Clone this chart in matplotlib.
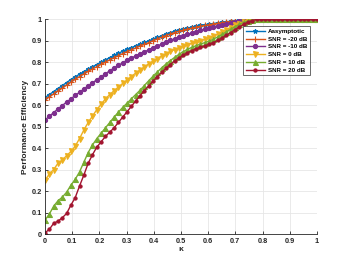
import numpy as np
import matplotlib
matplotlib.use("Agg")
import matplotlib.pyplot as plt

plt.rcParams['font.family'] = ['Liberation Sans', 'DejaVu Sans']

kappa = np.linspace(0, 1, 64)
ones14 = [1.0] * 14

asymptotic = [0.636, 0.650, 0.664, 0.678, 0.692, 0.706, 0.720, 0.733, 0.745, 0.757,
              0.768, 0.780, 0.790, 0.801, 0.812, 0.822, 0.833, 0.842, 0.852, 0.861,
              0.869, 0.877, 0.885, 0.893, 0.900, 0.908, 0.916, 0.924, 0.932, 0.939,
              0.945, 0.950, 0.955, 0.960, 0.964, 0.968, 0.972, 0.975, 0.978, 0.981,
              0.984, 0.987, 0.989, 0.992, 0.994, 0.996, 0.997, 0.999, 1.0, 1.0] + ones14
snr_m20 = [0.625, 0.639, 0.653, 0.667, 0.680, 0.694, 0.708, 0.721, 0.734, 0.746,
           0.758, 0.769, 0.780, 0.791, 0.801, 0.812, 0.822, 0.831, 0.841, 0.850,
           0.858, 0.867, 0.876, 0.884, 0.892, 0.901, 0.909, 0.917, 0.925, 0.932,
           0.939, 0.945, 0.950, 0.955, 0.960, 0.964, 0.968, 0.972, 0.975, 0.979,
           0.982, 0.985, 0.988, 0.991, 0.993, 0.995, 0.997, 0.999, 1.0, 1.0] + ones14
snr_m10 = [0.532, 0.549, 0.566, 0.583, 0.599, 0.615, 0.630, 0.646, 0.661, 0.676,
           0.691, 0.705, 0.719, 0.733, 0.747, 0.761, 0.774, 0.786, 0.798, 0.810,
           0.820, 0.830, 0.840, 0.849, 0.858, 0.867, 0.876, 0.885, 0.893, 0.902,
           0.910, 0.917, 0.924, 0.930, 0.937, 0.943, 0.949, 0.955, 0.960, 0.965,
           0.970, 0.975, 0.979, 0.984, 0.988, 0.992, 0.995, 0.998, 1.0, 1.0] + ones14
snr_0 = [0.250, 0.280, 0.300, 0.330, 0.345, 0.365, 0.385, 0.410, 0.445, 0.485,
         0.520, 0.550, 0.580, 0.605, 0.630, 0.650, 0.668, 0.685, 0.702, 0.718,
         0.734, 0.750, 0.765, 0.779, 0.793, 0.806, 0.818, 0.830, 0.841, 0.851,
         0.860, 0.868, 0.876, 0.883, 0.889, 0.895, 0.901, 0.907, 0.914, 0.922,
         0.932, 0.942, 0.952, 0.962, 0.972, 0.981, 0.988, 0.994, 0.998, 1.0] + ones14
snr_10 = [0.065, 0.093, 0.130, 0.155, 0.172, 0.195, 0.228, 0.255, 0.290, 0.335,
          0.380, 0.415, 0.445, 0.470, 0.495, 0.520, 0.545, 0.568, 0.590, 0.610,
          0.630, 0.650, 0.670, 0.692, 0.714, 0.735, 0.755, 0.774, 0.792, 0.808,
          0.823, 0.837, 0.850, 0.861, 0.870, 0.878, 0.885, 0.892, 0.899, 0.908,
          0.919, 0.930, 0.942, 0.954, 0.966, 0.977, 0.986, 0.993, 0.998, 1.0] + ones14
snr_20 = [0.006, 0.022, 0.050, 0.060, 0.076, 0.096, 0.135, 0.170, 0.224, 0.275,
          0.330, 0.370, 0.405, 0.430, 0.455, 0.475, 0.495, 0.520, 0.545, 0.570,
          0.595, 0.620, 0.645, 0.668, 0.690, 0.712, 0.733, 0.753, 0.772, 0.790,
          0.806, 0.820, 0.833, 0.845, 0.855, 0.863, 0.870, 0.877, 0.884, 0.892,
          0.902, 0.914, 0.926, 0.939, 0.952, 0.965, 0.977, 0.987, 0.995, 1.0] + ones14

labels = ['Aasymptotic', 'SNR = -20 dB', 'SNR = -10 dB', 'SNR = 0 dB', 'SNR = 10 dB', 'SNR = 20 dB']
series = [asymptotic, snr_m20, snr_m10, snr_0, snr_10, snr_20]
colors = ['#0072BD', '#D95319', '#7E2F8E', '#EDB120', '#77AC30', '#A2142F']
markers = ['*', '+', 'o', 'v', '^', 'o']
msizes = [3.3, 3.8, 3.0, 3.6, 3.6, 2.3]

xticks = np.round(np.arange(0, 1.01, 0.1), 1)
yticks = np.round(np.arange(0, 1.01, 0.1), 1)

fig = plt.figure(figsize=(3.5, 2.63), dpi=100)
ax = fig.add_axes([0.1286, 0.110, 0.777, 0.816])

for y, lab, c, m, ms in zip(series, labels, colors, markers, msizes):
    ax.plot(kappa, y, color=c, marker=m, markersize=ms, markerfacecolor=c,
            markeredgecolor=c, markeredgewidth=0.8, linewidth=1.0, label=lab)

ax.set_xlim(0, 1)
ax.set_ylim(0, 1)
ax.set_xticks(xticks)
ax.set_yticks(yticks)
ax.set_xticklabels([('%g' % v) for v in xticks])
ax.set_yticklabels([('%g' % v) for v in yticks])
ax.grid(True, color='#e6e6e6', linewidth=0.6)
ax.set_axisbelow(True)
for s in ['top', 'right']:
    ax.spines[s].set_visible(False)
for s in ['left', 'bottom']:
    ax.spines[s].set_color('#262626')
    ax.spines[s].set_linewidth(0.6)
ax.tick_params(direction='in', length=2.5, width=0.6, labelsize=5.3, colors='#262626', pad=2.5)
for t in ax.get_xticklabels() + ax.get_yticklabels():
    t.set_fontweight('bold')

ax.set_xlabel('κ', fontsize=6, fontweight='bold', labelpad=1, color='#262626')
ax.set_ylabel('Performance Efficiency', fontsize=6, fontweight='bold', labelpad=1.5, color='#262626')

leg = ax.legend(loc='upper right', bbox_to_anchor=(0.978, 0.975),
                prop={'weight': 'bold', 'size': 4.5}, frameon=True, fancybox=False,
                edgecolor='#262626', handlelength=3.0, handletextpad=0.5,
                borderpad=0.4, labelspacing=0.38, borderaxespad=0.2)
leg.get_frame().set_linewidth(0.6)

fig.savefig('out.png', dpi=100)
